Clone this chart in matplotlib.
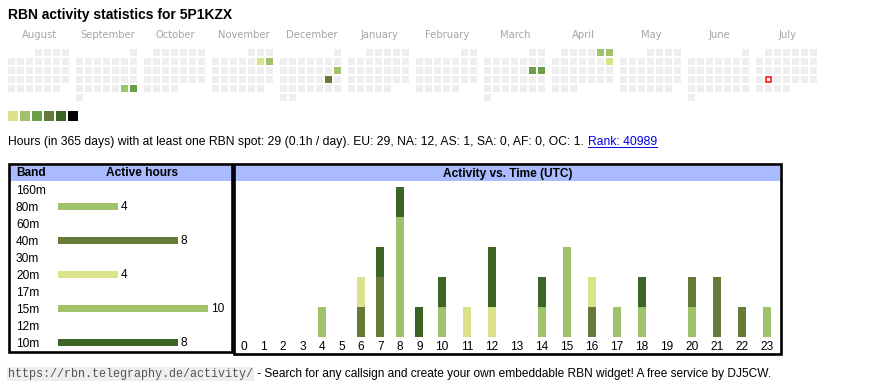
"""
RBN activity widget for 5P1KZX: calendar heatmap, hours per band, hours per UTC hour.
"""
from datetime import date, timedelta

import matplotlib
matplotlib.use("Agg")
import matplotlib.pyplot as plt
from matplotlib.patches import Rectangle
import numpy as np

# --- data -------------------------------------------------------------------
callsign = "5P1KZX"
months = [(2024, 8), (2024, 9), (2024, 10), (2024, 11), (2024, 12), (2025, 1),
          (2025, 2), (2025, 3), (2025, 4), (2025, 5), (2025, 6), (2025, 7)]
month_names = ["August", "September", "October", "November", "December", "January",
               "February", "March", "April", "May", "June", "July"]
active_days = ["2024-09-28", "2024-09-29", "2024-11-09", "2024-11-10", "2024-12-15",
               "2024-12-21", "2025-03-15", "2025-03-16", "2025-04-05", "2025-04-06",
               "2025-04-13"]
active_levels = [2, 3, 1, 2, 2, 4, 3, 3, 2, 2, 1]
today = "2025-07-22"

level_colors = ["#dbe28b", "#9fc26a", "#6a9f45", "#667a39", "#3c6427", "#000000"]

bands = ["160m", "80m", "60m", "40m", "30m", "20m", "17m", "15m", "12m", "10m"]
band_colors = {"80m": "#9fc26a", "40m": "#667a39", "20m": "#dbe28b",
               "15m": "#9fc26a", "10m": "#3c6427"}
hours = list(range(24))
# active hours per band and UTC hour
band_hours = {
    "80m": {4: 1, 17: 1, 20: 1, 23: 1},
    "40m": {6: 1, 7: 2, 16: 1, 20: 1, 21: 2, 22: 1},
    "20m": {6: 1, 11: 1, 12: 1, 16: 1},
    "15m": {8: 4, 10: 1, 14: 1, 15: 3, 18: 1},
    "10m": {7: 1, 8: 1, 9: 1, 10: 1, 12: 2, 14: 1, 18: 1},
}
summary = ("Hours (in 365 days) with at least one RBN spot: 29 (0.1h / day). "
           "EU: 29, NA: 12, AS: 1, SA: 0, AF: 0, OC: 1.")
rank_text = "Rank: 40989"
url_text = "https://rbn.telegraphy.de/activity/"
footer = " - Search for any callsign and create your own embeddable RBN widget! A free service by DJ5CW."

# --- figure in pixel units --------------------------------------------------
W, H = 870, 390
SANS = "Liberation Sans"
fig = plt.figure(figsize=(W / 100, H / 100), dpi=100)
bg = fig.add_axes([0, 0, 1, 1])
bg.set_xlim(0, W)
bg.set_ylim(H, 0)
bg.axis("off")


def px_axes(x0, y0, x1, y1):
    ax = fig.add_axes([x0 / W, 1 - y1 / H, (x1 - x0) / W, (y1 - y0) / H])
    ax.patch.set_alpha(0)
    for s in ax.spines.values():
        s.set_visible(False)
    return ax


bg.text(8, 15, f"RBN activity statistics for {callsign}", fontsize=10.0,
        fontweight="bold", family=SANS, va="center", ha="left")

# --- calendar ---------------------------------------------------------------
levels = {date.fromisoformat(d): lv for d, lv in zip(active_days, active_levels)}
today_d = date.fromisoformat(today)
for m, ((yy, mm), name) in enumerate(zip(months, month_names)):
    x0 = 8 + 68 * m
    bg.text(x0 + 31.5, 35, name, fontsize=7.2, color="#a5a5a5",
            family="DejaVu Sans", ha="center", va="center")
    first = date(yy, mm, 1)
    d = first
    while d.month == mm:
        pos = first.weekday() + d.day - 1
        x = x0 + 9 * (pos % 7)
        y = 49 + 9 * (pos // 7)
        if d == today_d:
            bg.add_patch(Rectangle((x + 0.6, y + 0.6), 5.8, 5.8, facecolor="white",
                                   edgecolor="#ff0000", lw=1.1))
        else:
            c = level_colors[levels[d] - 1] if d in levels else "#eeeeee"
            bg.add_patch(Rectangle((x, y), 7, 7, facecolor=c, edgecolor="none"))
        d += timedelta(days=1)

for i, c in enumerate(level_colors):
    bg.add_patch(Rectangle((8 + 12 * i, 111), 10, 10, facecolor=c, edgecolor="none"))

# --- summary line -----------------------------------------------------------
t = bg.text(8, 142, summary, fontsize=8.7, family=SANS, va="center", ha="left")
fig.canvas.draw()
inv = bg.transData.inverted()
x_end = inv.transform(t.get_window_extent().get_points())[1, 0]
lk = bg.text(x_end + 4, 142, rank_text, fontsize=8.7, family=SANS, color="#0000ee",
             va="center", ha="left")
fig.canvas.draw()
lb = inv.transform(lk.get_window_extent().get_points())
bg.plot([lb[0, 0], lb[1, 0]], [147, 147], color="#0000ee", lw=0.7)

# --- boxes ------------------------------------------------------------------
bg.add_patch(Rectangle((10, 166), 222, 14.5, facecolor="#aabbff", edgecolor="none"))
bg.add_patch(Rectangle((235, 166), 545, 14.5, facecolor="#aabbff", edgecolor="none"))
bg.add_patch(Rectangle((9.25, 164.25), 222.5, 187.5, facecolor="none",
                       edgecolor="black", lw=1.9, zorder=5))
bg.add_patch(Rectangle((234.25, 164.25), 546.5, 189.5, facecolor="none",
                       edgecolor="black", lw=1.9, zorder=5))
bg.text(16, 173.5, "Band", fontsize=8.6, fontweight="bold", family=SANS,
        va="center", ha="left")
bg.text(142, 173.5, "Active hours", fontsize=8.6, fontweight="bold", family=SANS,
        va="center", ha="center")
bg.text(508, 173.5, "Activity vs. Time (UTC)", fontsize=8.6, fontweight="bold",
        family=SANS, va="center", ha="center")

# --- hours per band ---------------------------------------------------------
band_totals = [sum(band_hours.get(b, {}).values()) for b in bands]
axb = px_axes(58, 181, 208, 351)
ypos = np.arange(len(bands))
bar_cols = [band_colors.get(b, "white") for b in bands]
axb.barh(ypos, band_totals, height=0.41, color=bar_cols)
for yv, v in zip(ypos, band_totals):
    if v:
        axb.text(v + 0.2, yv, str(v), fontsize=8.6, family=SANS, va="center", ha="left")
axb.set_xlim(0, 10)
axb.set_ylim(len(bands) - 0.5, -0.5)
axb.set_xticks([])
axb.set_yticks(ypos, bands)
axb.tick_params(axis="y", length=0, pad=42 * 0.72, labelsize=8.6)
for lab in axb.get_yticklabels():
    lab.set_horizontalalignment("left")
    lab.set_family(SANS)

# --- hours per UTC hour -----------------------------------------------------
labels = [str(h) for h in hours]
col_w = np.array([14 + 5.5 * len(s) for s in labels])
centers = np.cumsum(col_w) - col_w / 2
axt = px_axes(234.25, 181, 234.25 + col_w.sum(), 336.7)
bottom = np.zeros(len(hours))
for b in bands:
    vals = np.array([band_hours.get(b, {}).get(h, 0) for h in hours])
    if vals.sum() == 0:
        continue
    axt.bar(centers, vals, width=8, bottom=bottom, color=band_colors[b])
    bottom += vals
axt.set_xlim(0, col_w.sum())
axt.set_ylim(0, (336.7 - 181) / 30)
axt.set_yticks([])
axt.set_xticks(centers, labels)
axt.tick_params(axis="x", length=0, pad=3, labelsize=8.6)
for lab in axt.get_xticklabels():
    lab.set_family(SANS)

# --- footer -----------------------------------------------------------------
u = bg.text(8, 374, url_text, fontsize=8.5, family="Liberation Mono", color="#555555",
            va="center", ha="left",
            bbox=dict(boxstyle="square,pad=0.12", facecolor="#eeeeee", edgecolor="none"))
fig.canvas.draw()
ux = inv.transform(u.get_window_extent().get_points())[1, 0]
bg.text(ux + 1, 374, footer, fontsize=8.55, family=SANS, va="center", ha="left")

fig.savefig("out.png", dpi=100)
plt.close(fig)
